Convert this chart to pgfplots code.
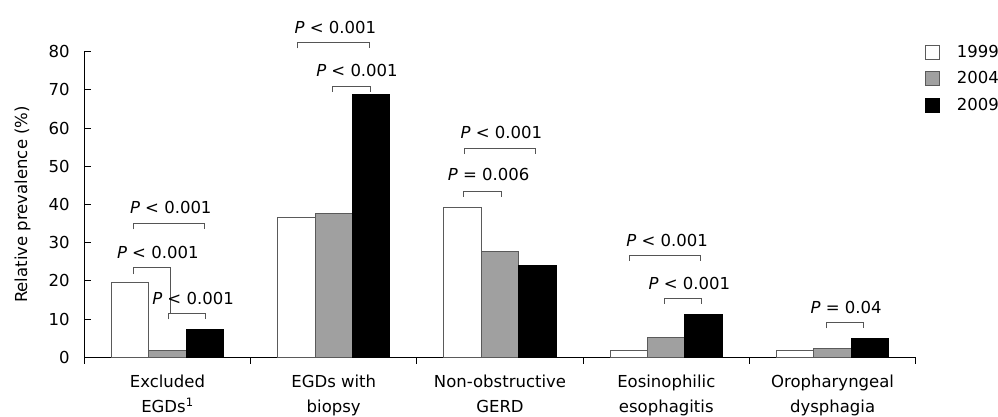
\documentclass[border=0pt]{standalone}
\usepackage{pgfplots}
\pgfplotsset{compat=1.18}
\usepackage{fontspec}
\setmainfont{DejaVu Sans}
\definecolor{edge}{HTML}{5A5A5A}
\definecolor{midgray}{HTML}{A0A0A0}
\definecolor{brk}{HTML}{555555}
\begin{document}
\fontsize{16.5bp}{20bp}\selectfont
\begin{tikzpicture}[x=1bp,y=1bp]
\begin{axis}[
  scale only axis, width=831.4bp, height=305.6bp,
  at={(0,0)}, anchor=south west,
  xmin=-0.5, xmax=4.5, ymin=0, ymax=80,
  clip=false,
  axis x line=bottom, axis y line=left,
  axis line style={-, black, line width=1bp},
  tick align=inside, major tick length=6.5bp,
  tick style={black, line width=1bp},
  ytick={0,10,...,80},
  xtick={-0.5,0.5,...,4.5}, xticklabels={},
  extra x ticks={0,1,2,3,4},
  extra x tick labels={Excluded\\EGDs\textsuperscript{1},EGDs with\\biopsy,Non-obstructive\\GERD,Eosinophilic\\esophagitis,Oropharyngeal\\dysphagia},
  extra x tick style={major tick length=0pt},
  xticklabel style={align=center, font=\fontsize{16.5bp}{25bp}\selectfont, yshift=-12bp},
  yticklabel style={xshift=-9bp},
  /pgf/number format/assume math mode=true,
  ticklabel style={font=\fontsize{16.5bp}{20bp}\selectfont},
  ylabel={Relative prevalence (\%)},
  ylabel style={at={(axis description cs:-0.0743,0.5)}, anchor=center, font=\fontsize{16.5bp}{20bp}\selectfont},
  ybar=0pt, bar width=37.4bp,
  legend image code/.code={\draw[#1] (0bp,-7bp) rectangle (14bp,7bp);},
  legend cell align=left,
  legend style={at={(axis cs:4.5,80)}, anchor=north west, xshift=6bp, yshift=9bp,
    draw=none, fill=none, inner ysep=0pt, row sep=8bp, column sep=15bp,
    font=\fontsize{16.5bp}{20bp}\selectfont},
]
\addplot[draw=edge, fill=white, line width=1bp, bar shift=-37.4bp] coordinates {(0,19.5) (1,36.5) (2,39.3) (3,1.7) (4,1.7)};
\addlegendentry{1999}
\addplot[draw=edge, fill=midgray, line width=1bp, bar shift=0bp] coordinates {(0,1.7) (1,37.6) (2,27.7) (3,5.3) (4,2.3)};
\addlegendentry{2004}
\addplot[draw=black, fill=black, line width=1bp, bar shift=37.4bp] coordinates {(0,7.3) (1,68.7) (2,24.1) (3,11.3) (4,4.9)};
\addlegendentry{2009}

\begin{scope}[brk, line width=1bp]
% group 1
\draw (axis cs:-0.203,33.5) -- (axis cs:-0.203,35.1) -- (axis cs:0.224,35.1) -- (axis cs:0.224,33.5);
\draw (axis cs:-0.203,21.8) -- (axis cs:-0.203,23.4) -- (axis cs:0.0195,23.4) -- (axis cs:0.0195,11.5);
\draw (axis cs:0.009,9.95) -- (axis cs:0.009,11.5) -- (axis cs:0.228,11.5) -- (axis cs:0.228,9.95);
% group 2
\draw (axis cs:0.783,80.9) -- (axis cs:0.783,82.4) -- (axis cs:1.214,82.4) -- (axis cs:1.214,80.9);
\draw (axis cs:0.994,69.5) -- (axis cs:0.994,70.8) -- (axis cs:1.22,70.8) -- (axis cs:1.22,69.5);
% group 3
\draw (axis cs:1.785,53.2) -- (axis cs:1.785,54.7) -- (axis cs:2.212,54.7) -- (axis cs:2.212,53.2);
\draw (axis cs:1.783,42.0) -- (axis cs:1.783,43.5) -- (axis cs:2.007,43.5) -- (axis cs:2.007,42.0);
% group 4
\draw (axis cs:2.781,25.3) -- (axis cs:2.781,26.6) -- (axis cs:3.208,26.6) -- (axis cs:3.208,25.3);
\draw (axis cs:2.988,14.0) -- (axis cs:2.988,15.3) -- (axis cs:3.212,15.3) -- (axis cs:3.212,14.0);
% group 5
\draw (axis cs:3.964,7.6) -- (axis cs:3.964,9.06) -- (axis cs:4.188,9.06) -- (axis cs:4.188,7.6);
\end{scope}

\begin{scope}[every node/.style={anchor=base, inner sep=0pt, font=\fontsize{16.5bp}{20bp}\selectfont}]
\node at (axis cs:0.02,37.7) {\textit{P} < 0.001};
\node at (axis cs:-0.058,25.9) {\textit{P} < 0.001};
\node at (axis cs:0.154,13.9) {\textit{P} < 0.001};
\node at (axis cs:1.01,84.8) {\textit{P} < 0.001};
\node at (axis cs:1.14,73.5) {\textit{P} < 0.001};
\node at (axis cs:2.008,57.3) {\textit{P} < 0.001};
\node at (axis cs:1.932,46.2) {\textit{P} = 0.006};
\node at (axis cs:3.005,29.1) {\textit{P} < 0.001};
\node at (axis cs:3.139,17.8) {\textit{P} < 0.001};
\node at (axis cs:4.082,11.5) {\textit{P} = 0.04};
\end{scope}
\end{axis}
\pgfresetboundingbox
\path[use as bounding box] (-84.3,-58.7) rectangle (913.7,357.3);
\end{tikzpicture}
\end{document}
